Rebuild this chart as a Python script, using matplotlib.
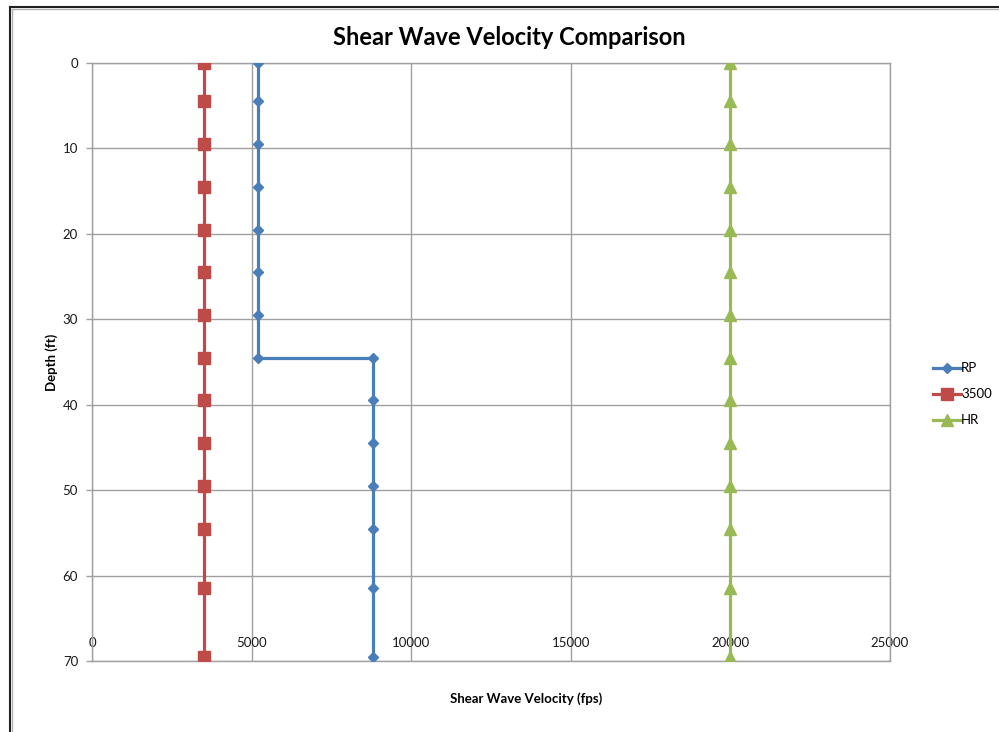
import matplotlib.pyplot as plt
from matplotlib.lines import Line2D

# depths (ft) and shear wave velocities (fps)
rp_depth = [0, 4.5, 9.5, 14.5, 19.5, 24.5, 29.5, 34.5, 34.5, 39.5, 44.5, 49.5, 54.5, 61.5, 69.5]
rp_vel = [5200, 5200, 5200, 5200, 5200, 5200, 5200, 5200, 8800, 8800, 8800, 8800, 8800, 8800, 8800]

depth = [0, 4.5, 9.5, 14.5, 19.5, 24.5, 29.5, 34.5, 39.5, 44.5, 49.5, 54.5, 61.5, 69.5]
vel_3500 = [3500] * 14
hr_vel = [20000, 20000, 20000, 20000, 20000, 20000, 20000, 20000, 20000, 20000, 20000, 20000, 20000, 20000]

x_ticks = [0, 5000, 10000, 15000, 20000, 25000]
y_ticks = [0, 10, 20, 30, 40, 50, 60, 70]

plt.rcParams['font.family'] = ['Lato', 'DejaVu Sans']

fig = plt.figure(figsize=(9.99, 7.32), dpi=100)
ax = fig.add_axes([0.0921, 0.0970, 0.7988, 0.8169])

grid_c = '#a0a0a0'
ax.plot(rp_vel, rp_depth, color='#4a7ebb', lw=2.3, marker='D', ms=5.5, label='RP', zorder=4)
ax.plot(vel_3500, depth, color='#be4b48', lw=2.3, marker='s', ms=8, label='3500', zorder=3)
ax.plot(hr_vel, depth, color='#98b954', lw=2.3, marker='^', ms=8, label='HR', zorder=3)

ax.set_xlim(0, 25000)
ax.set_ylim(70, 0)
ax.set_xticks(x_ticks)
ax.set_yticks(y_ticks)
ax.grid(True, color=grid_c, lw=1)
ax.set_axisbelow(True)
for s in ax.spines.values():
    s.set_color(grid_c)
    s.set_linewidth(1)

ax.tick_params(axis='x', length=0, pad=-17, labelsize=9.5, labelcolor='#1a1a1a')
ax.tick_params(axis='y', length=4, width=1, color=grid_c, pad=6, labelsize=9.5, labelcolor='#1a1a1a')

fig.text(0.51, 0.949, 'Shear Wave Velocity Comparison', ha='center', va='center',
         fontsize=17, fontweight='bold')
fig.text(0.052, 0.505, 'Depth (ft)', ha='center', va='center', rotation=90,
         fontsize=9.5, fontweight='bold')
fig.text(0.527, 0.046, 'Shear Wave Velocity (fps)', ha='center', va='center',
         fontsize=9.5, fontweight='bold')

leg = ax.legend(loc='center left', bbox_to_anchor=(1.047, 0.446), frameon=False,
                fontsize=9.5, handlelength=2.1, handletextpad=0.05, labelspacing=1.05,
                borderpad=0.4, borderaxespad=0)

# screenshot frame on left and top
fig.add_artist(Line2D([0.0105, 0.0105], [0, 0.991], color='#202020', lw=1.5))
fig.add_artist(Line2D([0.0125, 0.0125], [0, 0.988], color='#b0b0b0', lw=1))
fig.add_artist(Line2D([0.0105, 1], [0.991, 0.991], color='#202020', lw=1.5))
fig.add_artist(Line2D([0.0125, 1], [0.988, 0.988], color='#b0b0b0', lw=1))

plt.savefig('out.png', dpi=100)
